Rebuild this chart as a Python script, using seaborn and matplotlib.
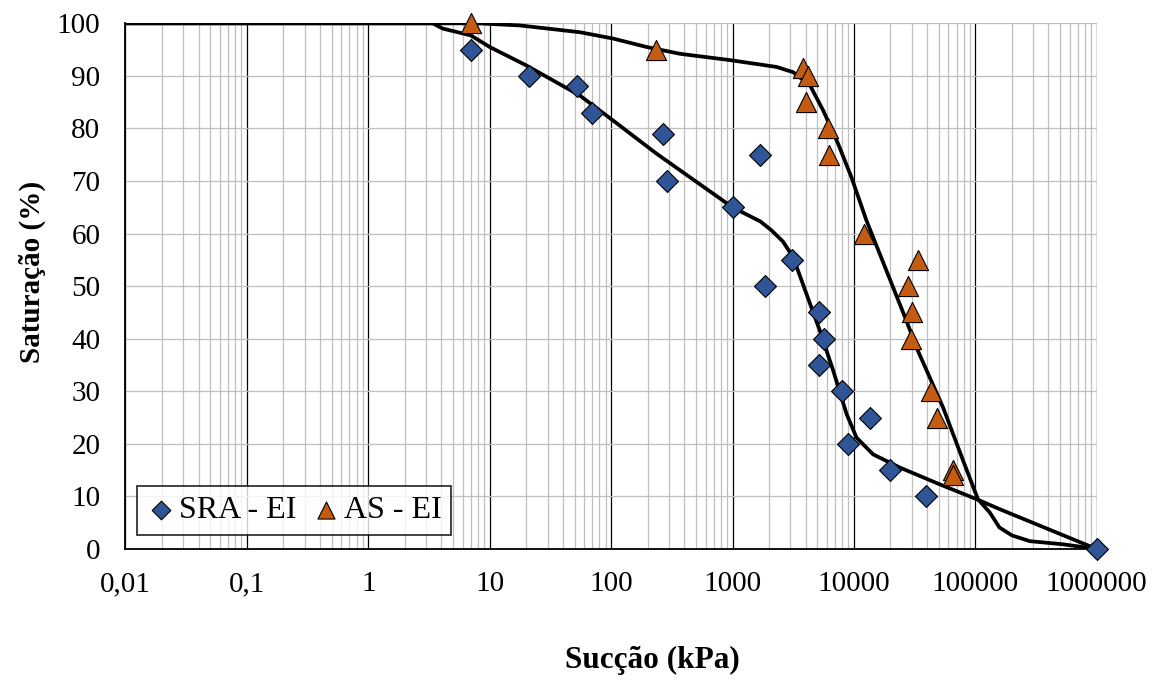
import numpy as np
import pandas as pd
import seaborn as sns
import matplotlib.pyplot as plt
from matplotlib.ticker import FixedLocator, LogLocator, NullFormatter

# measured points
sra_x = [7, 21, 52, 70, 270, 290, 1000, 1700, 1850, 3100, 5200, 5700, 5200, 8000, 9000, 13500, 20000, 39000, 1000000]
sra_y = [95, 90, 88, 83, 79, 70, 65, 75, 50, 55, 45, 40, 35, 30, 20, 25, 15, 10, 0]

as_x = [7, 235, 3800, 4200, 4000, 6100, 6200, 12000, 33500, 28000, 30000, 29800, 43500, 48500, 65000, 65000]
as_y = [100, 95, 91.5, 90, 85, 80, 75, 60, 55, 50, 45, 40, 30, 25, 15, 14]

# fitted curves
sra_fit_x = [0.01, 3.4, 4.1, 7, 10, 20, 55, 104, 237, 1000, 1700, 2100, 2600, 3160, 4070, 5250,
             6760, 8700, 10500, 14400, 23900, 51000, 102000, 158000, 1000000]
sra_fit_y = [100, 100, 99, 97.7, 95.5, 92, 86.3, 81.5, 75.2, 65, 62.3, 60.6, 58.5, 55.5, 48.5, 41.5,
             33.9, 25.7, 21.2, 18, 15.5, 12.3, 9.5, 7.6, 0]

as_fit_x = [0.01, 8, 17.7, 55.6, 104, 196, 370, 955, 2310, 3160, 4350, 5590, 7410, 9550, 12680,
            18500, 27100, 32800, 54300, 79400, 105000, 132000, 158000, 200000, 281000, 528000, 1000000]
as_fit_y = [100, 100, 99.6, 98.3, 97.1, 95.5, 94.2, 93, 91.7, 90.7, 88.2, 83.4, 77.1, 70.7, 62.5,
            53, 43.4, 38.3, 26.9, 16.8, 9.5, 6.9, 4.1, 2.6, 1.5, 0.9, 0]

xticks = [0.01, 0.1, 1, 10, 100, 1000, 10000, 100000, 1000000]
xtick_labels = ['0,01', '0,1', '1', '10', '100', '1000', '10000', '100000', '1000000']
yticks = list(range(0, 101, 10))

sns.set_theme(style='white')
plt.rcParams['font.family'] = ['Liberation Serif', 'DejaVu Serif']
plt.rcParams['text.color'] = 'black'
plt.rcParams['axes.labelcolor'] = 'black'

fig, ax = plt.subplots(figsize=(11.64, 6.8), dpi=100)
fig.subplots_adjust(left=0.1078, right=0.9422, top=0.9657, bottom=0.1926)

ax.set_xscale('log')

sns.lineplot(x=sra_fit_x, y=sra_fit_y, ax=ax, color='black', lw=2.7, sort=False,
             estimator=None, legend=False, zorder=3)
sns.lineplot(x=as_fit_x, y=as_fit_y, ax=ax, color='black', lw=2.7, sort=False,
             estimator=None, legend=False, zorder=3)

sns.scatterplot(x=sra_x, y=sra_y, ax=ax, marker='D', s=125, color='#2F5597',
                edgecolor='black', linewidth=0.8, label='SRA - EI', zorder=4, clip_on=False)
sns.scatterplot(x=as_x, y=as_y, ax=ax, marker='^', s=210, color='#C55A11',
                edgecolor='black', linewidth=0.8, label='AS - EI', zorder=4, clip_on=False)

ax.set_xlim(0.01, 1000000)
ax.set_ylim(0, 100)
ax.xaxis.set_major_locator(FixedLocator(xticks))
ax.set_xticklabels(xtick_labels)
ax.xaxis.set_minor_locator(LogLocator(base=10, subs=np.arange(2, 10), numticks=20))
ax.xaxis.set_minor_formatter(NullFormatter())
ax.set_yticks(yticks)

ax.xaxis.grid(True, which='major', color='black', lw=0.9)
ax.xaxis.grid(True, which='minor', color='#BFBFBF', lw=0.9)
ax.yaxis.grid(True, which='major', color='#BFBFBF', lw=0.9)
ax.set_axisbelow(True)

for s in ['top', 'right']:
    ax.spines[s].set_visible(False)
for s in ['left', 'bottom']:
    ax.spines[s].set_color('black')
    ax.spines[s].set_linewidth(1.3)

ax.tick_params(axis='both', which='major', direction='out', length=6, width=1,
               color='black', labelsize=21, labelcolor='black')
ax.tick_params(axis='x', which='major', pad=10)
ax.tick_params(axis='y', which='major', pad=12)
ax.tick_params(axis='x', which='minor', length=0)

ax.set_xlabel('Sucção (kPa)', fontsize=22.5, fontweight='bold', color='black')
ax.set_ylabel('Saturação (%)', fontsize=21, fontweight='bold', color='black')
ax.xaxis.set_label_coords(0.542, -0.185)
ax.yaxis.set_label_coords(-0.082, 0.527)

leg = ax.legend(loc='lower left', bbox_to_anchor=(0.012, 0.027), borderaxespad=0,
                ncol=2, fontsize=23, frameon=True, fancybox=False, edgecolor='black',
                handlelength=0.9, handletextpad=0.1, columnspacing=0.5, borderpad=0.3,
                markerscale=0.85, labelcolor='black')
leg.get_frame().set_linewidth(1.3)

fig.savefig('out.png', dpi=100)
